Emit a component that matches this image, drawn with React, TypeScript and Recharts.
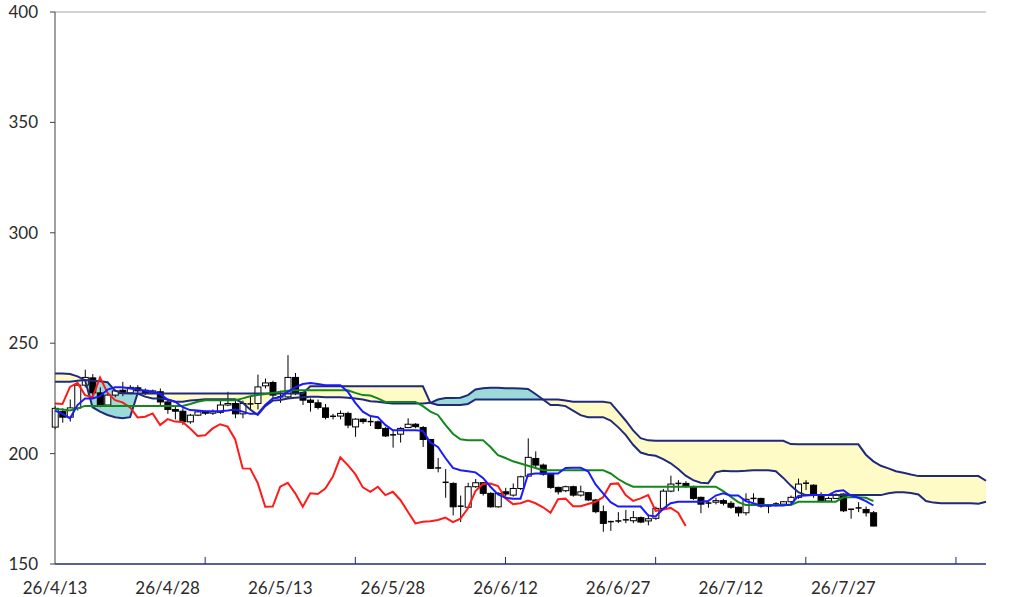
import React from 'react';
import { ComposedChart, Line, Area, Bar, XAxis, YAxis, ReferenceLine } from 'recharts';

// axis labels
const dateLabels = ['26/4/13', '26/4/28', '26/5/13', '26/5/28', '26/6/12', '26/6/27', '26/7/12', '26/7/27'];
const labelIdx = [0, 15, 30, 45, 60, 75, 90, 105];
const tickMarkIdx = [20, 40, 60, 80, 100, 120];
const priceTicks = [150, 200, 250, 300, 350, 400];

// daily candles
const opens = [
  212, 219, 216.5, 220.6, 231, 234.3, 227.5, 222, 226.5, 228.7,
  227.5, 229.8, 228.7, 227.5, 228, 223.4, 220, 219.2, 214.4, 217.4,
  219, 218.3, 218.7, 222, 222.7, 218, 222.3, 222.7, 230.7, 232.2,
  225.7, 225.7, 234.5, 227.7, 224.2, 223, 220.7, 216.9, 217, 218.2,
  212.1, 215.6, 214.5, 214.4, 211.4, 208.5, 208.8, 211.8, 213.3, 211.8,
  206.4, 193.5, 187, 186.5, 176.2, 175.7, 185, 186.8, 182, 175.9,
  182.7, 181.2, 184.2, 189.8, 197.8, 194.8, 190.7, 184.7, 183.2, 185,
  181.2, 182.3, 179, 173.7, 169.2, 169.5, 170, 169.6, 171, 169.5,
  170.7, 175.2, 183, 186.5, 186.5, 185, 180.2, 177.6, 178, 178.7,
  177.5, 175.7, 173.2, 179.7, 179.7, 176.3, 176.8, 177.1, 178.2, 180.2,
  186.6, 185.7, 181.2, 178.5, 179.7, 181.7, 174.8, 175.3, 174.7, 173.2,
];
const highs = [
  221.5, 220.5, 224.5, 232, 238, 236, 230, 227.5, 229, 232.5,
  231, 231, 229.5, 229, 229.5, 224.5, 222, 220.5, 218, 219.5,
  219.5, 220, 224, 228, 224, 224, 226, 235.8, 234, 233,
  228.5, 244.6, 236.5, 228, 225, 224.5, 222.5, 218, 219.5, 219,
  216, 216, 216.5, 215, 212, 210.5, 212, 216, 213.8, 212.5,
  206.5, 198, 193, 187, 181, 186.8, 188.5, 187, 182.5, 182.5,
  184.5, 186.5, 190, 206.9, 201, 195.5, 191, 185, 185.5, 185.5,
  185.5, 182.5, 179.5, 176.5, 169.5, 173.5, 174.5, 174, 171.5, 172.5,
  176, 184, 190, 188, 187.5, 185.5, 180.5, 179, 180, 179.5,
  178.5, 176, 182, 182, 180, 177, 178, 178.5, 181, 188.7,
  188, 186, 182.5, 180.5, 182, 182, 175, 178, 176, 174,
];
const lows = [
  211, 214, 214.5, 219.5, 230, 226, 221, 221.5, 225.5, 226,
  227, 227.5, 226.5, 227, 222, 218, 215.5, 213, 213.5, 217,
  217.5, 217.5, 218, 221.5, 216, 216, 220, 220, 229.5, 224.5,
  223, 225, 226.5, 222, 219, 220, 215.5, 215.5, 215.5, 211.5,
  207.6, 213.5, 212.5, 211, 207.5, 202.7, 205, 211.5, 211.5, 203,
  193, 191.5, 180, 172, 169, 175.5, 184.5, 181, 175.5, 175.5,
  180.5, 180.5, 183.5, 189.5, 193.5, 190, 184, 181.5, 182.5, 180.5,
  180.5, 178.5, 173, 164.6, 165, 168.5, 168.5, 168.5, 168.5, 167.5,
  170, 174.5, 182.5, 183, 184.5, 179, 173, 175.5, 177, 176.5,
  175, 171.5, 172, 178, 175.5, 173, 176, 176.5, 177.5, 179.5,
  183.5, 180, 178, 178, 179.5, 173.5, 170.5, 173.5, 171.5, 167,
];
const closes = [
  220.5, 216.5, 220.7, 231, 234.5, 227.5, 222, 226.5, 228.4, 227.2,
  230, 228.4, 227.2, 228.4, 223.4, 220, 219.2, 214.4, 217.4, 218.9,
  218.3, 219, 222, 222.7, 218, 222.7, 222.5, 230.2, 232, 226.5,
  225.5, 234.5, 227.5, 224.2, 223.2, 220.9, 216.4, 216.7, 218.2, 212.9,
  215.6, 214.5, 214.3, 211.4, 208, 208.3, 211.4, 213.3, 212.2, 206.4,
  193.3, 193.2, 186.7, 175.9, 176, 185, 186.8, 182, 175.9, 182,
  181.7, 184.2, 189.5, 198.3, 194.8, 190.7, 184.7, 182.7, 185, 181.2,
  182.7, 179, 173.7, 168.4, 169.1, 169.4, 169.9, 171, 169, 170.5,
  175.2, 183, 186.2, 186.4, 185.3, 179.7, 177.1, 177.5, 178.7, 177.5,
  175.7, 173.2, 179.3, 179.6, 176.2, 176.2, 177.2, 178.2, 180.2, 186.2,
  186.5, 181.2, 178.6, 179.7, 181.2, 174.1, 174.7, 175.4, 173.2, 167.2,
];

// conversion line (blue)
const tenkan = [
  219.5, 218, 216, 222, 225, 225, 226, 229, 230, 230,
  229.5, 229, 228.5, 228, 227, 224.5, 223.5, 221, 219.7, 219.5,
  219.2, 219.2, 219.2, 219.5, 220, 219, 218, 218, 222, 225,
  225.5, 228, 230, 231.5, 232, 231.5, 231, 231, 231, 228,
  223, 219, 217, 216.5, 213, 210.6, 210.6, 210.6, 210.6, 210.3,
  205, 203, 198, 193.5, 192.5, 192, 191.5, 189, 185, 181.5,
  180, 179.5, 179.5, 190.5, 191, 191, 191, 191, 193.5, 193.6,
  193.6, 192, 186, 182, 178, 176, 176, 176, 176, 172,
  171.5, 175, 177.5, 178.2, 178.2, 178.2, 178.2, 178.5, 181, 182,
  181, 181, 178.5, 177.5, 176.5, 176.5, 176.5, 176.5, 177, 180.8,
  181, 181.2, 181.2, 181.2, 183, 183.4, 181, 180, 178.5, 176.5,
];

// base line (green)
const kijun = [
  220.2, 220, 219.5, 220.5, 221.6, 221.6, 221.6, 221.6, 221.6, 221.6,
  221.6, 221.6, 221.6, 221.6, 221.6, 221.6, 221.6, 221.6, 222.5, 223.5,
  224.2, 224.2, 224.2, 224.2, 224.2, 225, 226, 226.5, 227, 227.5,
  228, 228.5, 228.7, 228.7, 228.7, 228.7, 228.7, 228.7, 228.7, 228.7,
  227.5, 226.5, 226.3, 225, 223.4, 223.4, 223.4, 223.4, 223.4, 221.5,
  219, 217.5, 213, 209, 206.5, 206.1, 206.1, 206.1, 203, 199.3,
  198, 196.5, 195.5, 194.5, 193.5, 192.5, 192.5, 192.5, 192.5, 192.5,
  192.5, 192.5, 192.5, 192.5, 191, 188.5, 186.5, 185, 185, 185,
  185, 185, 185, 185, 185, 185, 185, 185, 185, 183,
  180.5, 178, 176.7, 176.7, 176.7, 176.7, 176.7, 176.7, 176.7, 178.2,
  178.2, 178.2, 178.2, 178.2, 178.2, 180.2, 180.2, 180.2, 180, 178.5,
];

// lagging line (red)
const chikou = [
  222.7, 222.5, 230.2, 232, 226.5, 225.5, 234.5, 227.5, 224.2, 223.2,
  220.9, 216.4, 216.7, 218.2, 212.9, 215.6, 214.5, 214.3, 211.4, 208,
  208.3, 211.4, 213.3, 212.2, 206.4, 193.3, 193.2, 186.7, 175.9, 176,
  185, 186.8, 182, 175.9, 182, 181.7, 184.2, 189.5, 198.3, 194.8,
  190.7, 184.7, 182.7, 185, 181.2, 182.7, 179, 173.7, 168.4, 169.1,
  169.4, 169.9, 171, 169, 170.5, 175.2, 183, 186.2, 186.4, 185.3,
  179.7, 177.1, 177.5, 178.7, 177.5, 175.7, 173.2, 179.3, 179.6, 176.2,
  176.2, 177.2, 178.2, 180.2, 186.2, 186.5, 181.2, 178.6, 179.7, 181.2,
  174.1, 174.7, 175.4, 173.2, 167.2,
];

// leading span A / B (navy)
const spanA = [
  232.5, 232.5, 232.5, 233, 233.3, 233, 232.8, 232.3, 228.5, 227.3,
  227.2, 227.2, 225.8, 225, 225, 224.5, 223.5, 223.5, 224, 224.3,
  224.6, 224.6, 224.6, 224.6, 224.6, 223, 220, 217.5, 221.5, 224,
  224.3, 225, 225.3, 225.5, 225.7, 225.7, 225.5, 225.5, 225.5, 225.3,
  225, 224.5, 223.7, 223.5, 223, 222.7, 222.7, 222.7, 222.7, 222.7,
  223, 224.5, 225.2, 225.2, 225.3, 226.5, 229, 229.6, 229.8, 229.8,
  229.6, 229.6, 229.5, 229.3, 227, 224.5, 222, 222, 221.5, 219.5,
  217.4, 216.5, 216.5, 216.5, 215, 212, 208.5, 204, 200.5, 199.5,
  199, 197.5, 195.6, 193, 190, 188, 186.8, 186.6, 191.5, 192.2,
  192, 192, 192.2, 192.5, 192.5, 192.5, 192, 189, 185.5, 182.5,
  181.2, 181.2, 181.2, 181.2, 181.2, 181.2, 181.2, 181.2, 181.2, 181.2,
  181.2, 182, 182.5, 182.5, 182.2, 181.5, 178.5, 177.8, 177.5, 177.5,
  177.5, 177.5, 177.5, 177.3, 178.2,
];
const spanB = [
  236.3, 236.3, 236, 235, 233.3, 221, 219, 217.5, 216.5, 216,
  216.5, 227.2, 227.2, 227.2, 227.2, 227.2, 227.2, 227.2, 227.2, 227.2,
  227.2, 227.2, 227.2, 227.2, 227.2, 227.2, 227.2, 227.2, 227.2, 227.2,
  227.2, 227.2, 227.2, 227.2, 230.5, 230.5, 230.5, 230.5, 230.5, 230.5,
  230.5, 230.5, 230.5, 230.5, 230.5, 230.5, 230.5, 230.5, 230.5, 230.5,
  223, 222, 222, 222, 222, 222.5, 224.5, 224.5, 224.5, 224.5,
  224.5, 224.5, 224.5, 224.5, 224.5, 224.5, 224.5, 224.5, 224, 223.5,
  223.5, 223.5, 223.5, 223.5, 223, 219, 215, 210.5, 207, 206,
  205.8, 205.8, 205.8, 205.8, 205.8, 205.8, 205.8, 205.8, 205.8, 205.8,
  205.8, 205.8, 205.8, 205.8, 205.8, 205.8, 205.8, 205.8, 204.3, 204.2,
  204.2, 204.2, 204.2, 204.2, 204.2, 204.2, 204.2, 204.2, 199.5, 196.5,
  194.5, 193.3, 192, 191.3, 190.5, 189.8, 189.8, 189.8, 189.8, 189.8,
  189.8, 189.8, 189.8, 189.8, 187.7,
];

const NAVY = '#1F2A7C';
const AXIS_TEXT = '#2B2B2B';
const FONT = 'Lato, "Open Sans", sans-serif';

const rows = spanA.map((a, i) => {
  const b = spanB[i];
  const hi = Math.max(a, b);
  const row: any = { i, spanA: a, spanB: b, yellow: [a, hi], teal: [b, hi] };
  if (i < closes.length) {
    row.candle = [lows[i], highs[i]];
    row.open = opens[i];
    row.close = closes[i];
    row.high = highs[i];
    row.low = lows[i];
    row.tenkan = tenkan[i];
    row.kijun = kijun[i];
  }
  if (i < chikou.length) row.chikou = chikou[i];
  return row;
});

const Candle = (props: any) => {
  const { x, y, width, height, payload } = props;
  if (!payload || payload.open == null) return null;
  const { open, close, high, low } = payload;
  const top0 = Math.min(y, y + height);
  const h = Math.abs(height);
  const span = high - low || 1;
  const py = (v: number) => top0 + ((high - v) / span) * h;
  const cx = x + width / 2;
  const bTop = py(Math.max(open, close));
  const bBot = py(Math.min(open, close));
  const up = close >= open;
  return (
    <g>
      <line x1={cx} x2={cx} y1={top0} y2={top0 + h} stroke="#000" strokeWidth={1} />
      {bBot - bTop < 1.2 ? (
        <line x1={x} x2={x + width} y1={bTop} y2={bTop} stroke="#000" strokeWidth={1.5} />
      ) : (
        <rect x={x} y={bTop} width={width} height={bBot - bTop} fill={up ? '#fff' : '#000'} stroke="#000" strokeWidth={1} />
      )}
    </g>
  );
};

export default function App() {
  return (
    <div style={{ position: 'absolute', left: 0, top: 0, width: 1024, height: 597, background: '#fff' }}>
      <ComposedChart width={1024} height={597} data={rows} margin={{ top: 12, right: 38, bottom: 0, left: 0 }}>
        <XAxis
          dataKey="i"
          type="number"
          domain={[0, 124]}
          ticks={labelIdx}
          tickFormatter={(v: number) => dateLabels[labelIdx.indexOf(v)] ?? ''}
          tickLine={false}
          tickSize={8}
          tickMargin={10}
          height={33}
          axisLine={{ stroke: NAVY, strokeWidth: 1.5 }}
          tick={{ fill: AXIS_TEXT, fontSize: 17, fontFamily: FONT }}
          interval={0}
        />
        <YAxis
          domain={[150, 400]}
          ticks={priceTicks}
          width={55}
          tickSize={5}
          tickMargin={12}
          axisLine={{ stroke: '#404040' }}
          tickLine={{ stroke: '#404040' }}
          tick={{ fill: AXIS_TEXT, fontSize: 17, fontFamily: FONT }}
          interval={0}
        />
        <YAxis
          yAxisId="r"
          orientation="right"
          domain={[150, 400]}
          ticks={[200, 250, 300, 350]}
          width={0}
          mirror
          tick={false}
          tickSize={4}
          axisLine={{ stroke: NAVY, strokeWidth: 1.5 }}
          tickLine={{ stroke: NAVY }}
        />
        <ReferenceLine y={400} stroke="#A6A6A6" strokeWidth={1} />
        {tickMarkIdx.map((t) => (
          <ReferenceLine key={t} segment={[{ x: t, y: 150 }, { x: t, y: 153.2 }]} stroke={NAVY} strokeWidth={1} />
        ))}
        <Area dataKey="yellow" stroke="none" fill="#FFFBC6" fillOpacity={1} isAnimationActive={false} />
        <Area dataKey="teal" stroke="none" fill="#9CDADA" fillOpacity={1} isAnimationActive={false} />
        <Line dataKey="spanA" stroke={NAVY} strokeWidth={2} dot={false} isAnimationActive={false} />
        <Line dataKey="spanB" stroke={NAVY} strokeWidth={2} dot={false} isAnimationActive={false} />
        <Line dataKey="chikou" stroke="#FF1A1A" strokeWidth={2} dot={false} isAnimationActive={false} />
        <Line dataKey="kijun" stroke="#13881A" strokeWidth={2} dot={false} isAnimationActive={false} />
        <Line dataKey="tenkan" stroke="#1A1AFF" strokeWidth={2} dot={false} isAnimationActive={false} />
        <Bar dataKey="candle" barSize={6} shape={<Candle />} isAnimationActive={false} />
      </ComposedChart>
    </div>
  );
}
